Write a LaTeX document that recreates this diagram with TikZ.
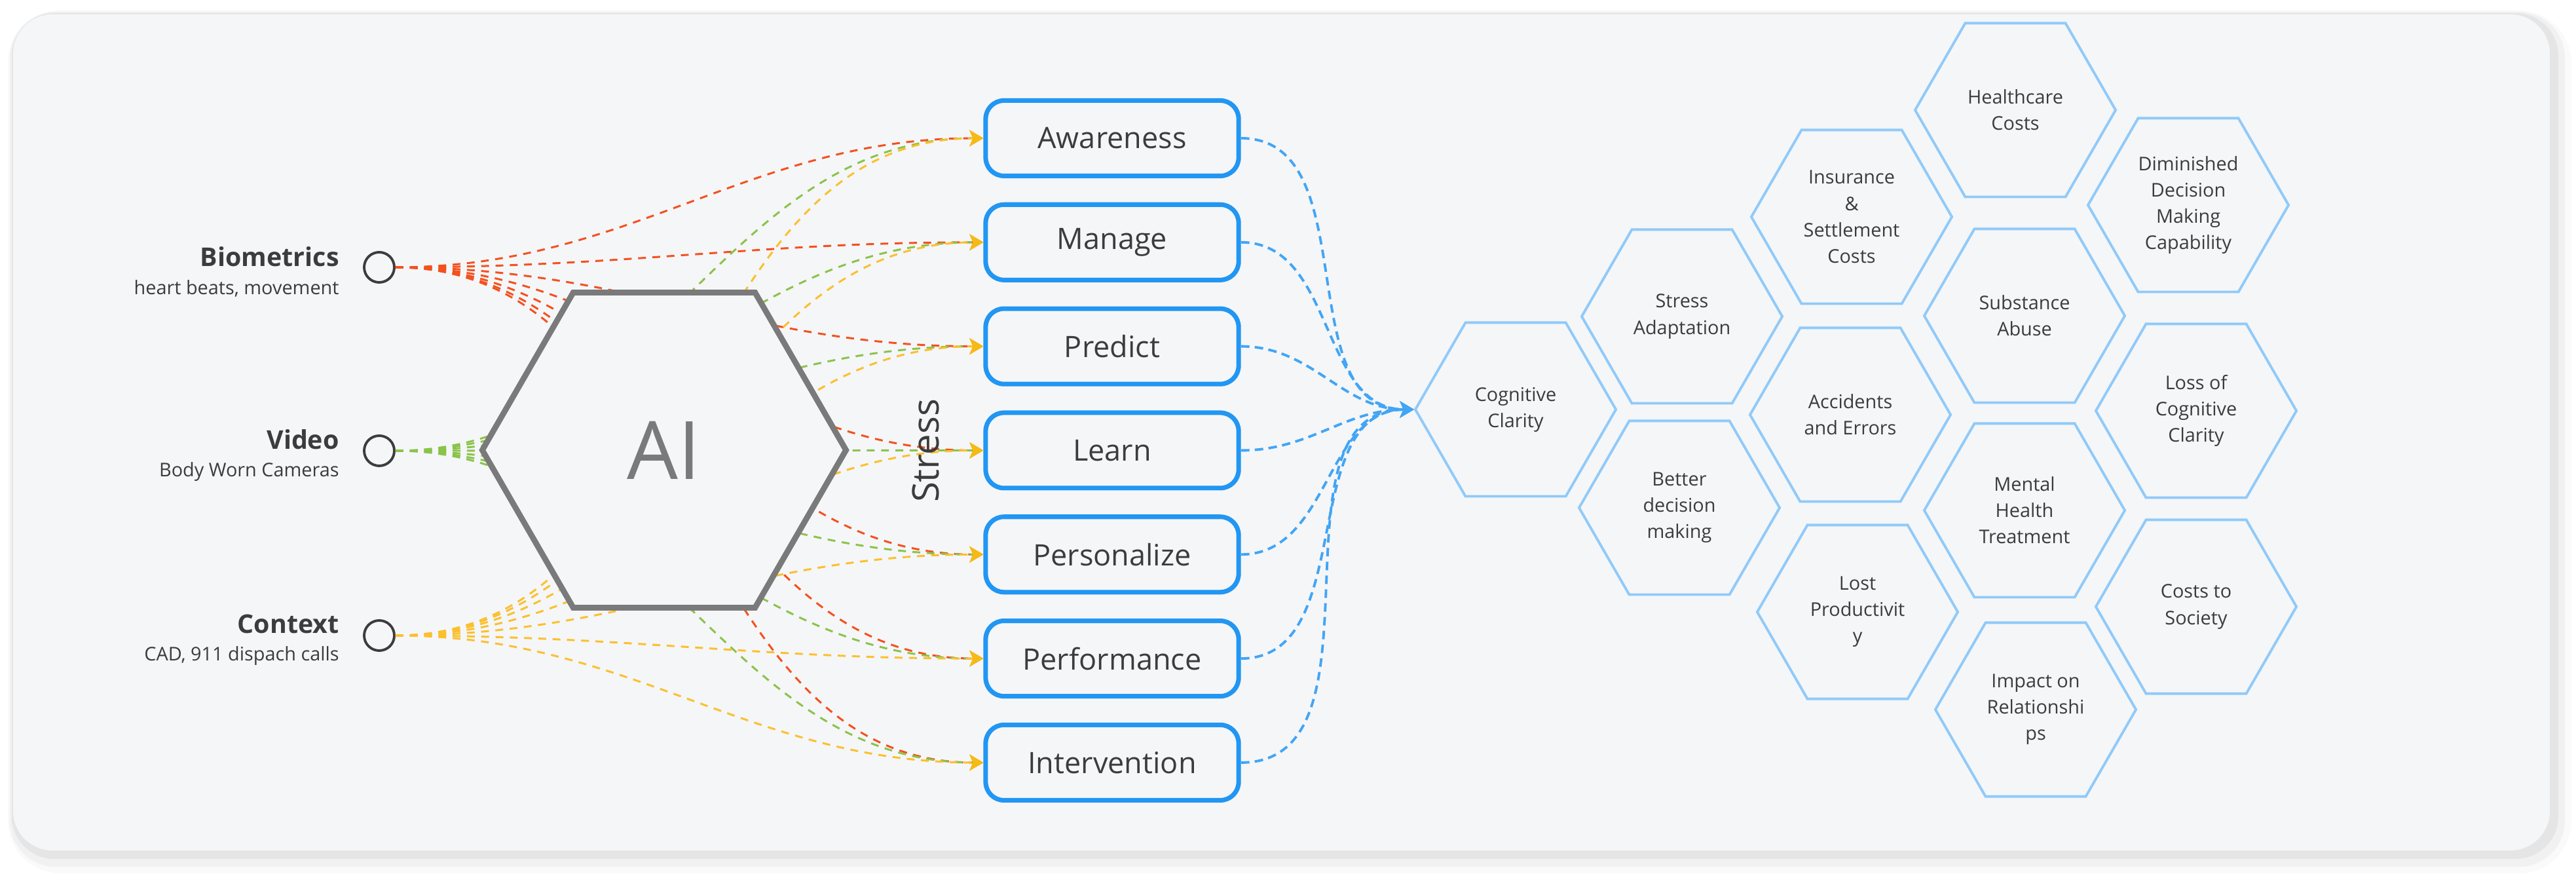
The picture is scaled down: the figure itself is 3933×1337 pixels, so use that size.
\documentclass[tikz,border=0pt]{standalone}
\usepackage{fontspec}
\setmainfont{Open Sans}
\usetikzlibrary{positioning,shapes.geometric,arrows.meta}

\definecolor{cardbg}{HTML}{F5F6F8}
\definecolor{biored}{HTML}{F4511E}
\definecolor{vidgreen}{HTML}{8BC34A}
\definecolor{ctxyellow}{HTML}{FBC02D}
\definecolor{tipyellow}{HTML}{F7B916}
\definecolor{boxblue}{HTML}{2196F3}
\definecolor{hexblue}{HTML}{90CAF9}
\definecolor{flowblue}{HTML}{42A5F5}
\definecolor{aigray}{HTML}{7A7A7A}
\definecolor{txtgray}{HTML}{3C3C3C}

\begin{document}
\begin{tikzpicture}[x=0.01cm,y=0.01cm,
    stagebox/.style={rectangle, draw=boxblue, line width=2pt, rounded corners=0.28cm, minimum width=3.86cm, minimum height=1.15cm, fill=cardbg, text=txtgray, font=\fontsize{12.8}{15}\selectfont},
    effect/.style={regular polygon, regular polygon sides=6, draw=hexblue, line width=1.1pt, minimum size=3.06cm, inner sep=0pt, align=center, text=txtgray, font=\fontsize{8.2}{11.4}\selectfont},
    source/.style={circle, draw=txtgray, line width=1.1pt, minimum size=0.46cm, inner sep=0pt, fill=cardbg},
    sourcetxt/.style={align=right, text=txtgray, left=0.24cm of #1, font=\fontsize{8.2}{12}\selectfont},
    feed/.style={dash pattern=on 3.4pt off 2.8pt, line width=0.85pt, -{Stealth[length=6pt,width=7pt,inset=1.5pt,color=tipyellow]}},
    flow/.style={draw=flowblue, dash pattern=on 3.7pt off 2.3pt, line width=1.1pt, -{Stealth[length=6pt,width=7pt,inset=1.5pt]}}
  ]
    \useasboundingbox (0,0) rectangle (3933,1337);
    % card and its shadow
    \fill[black, opacity=0.02, rounded corners=0.8cm] (12,4) rectangle (3926,1321);
    \fill[black, opacity=0.035, rounded corners=0.7cm] (15,14) rectangle (3916,1319);
    \fill[black, opacity=0.05, rounded corners=0.65cm] (18,26) rectangle (3906,1317);
    \fill[cardbg, rounded corners=0.6cm] (20,39) rectangle (3893,1315);

    % inputs
    \node(bio) [source] at (579,929) {};
    \node(video) [source] at (579,649) {};
    \node(context) [source] at (579,367) {};
    \node(biotxt) [sourcetxt=bio, yshift=-0.07cm] {{\fontsize{11.2}{12}\selectfont\bfseries Biometrics}\\heart beats, movement};
    \node(videotxt) [sourcetxt=video, yshift=-0.07cm] {{\fontsize{11.2}{12}\selectfont\bfseries Video}\\Body Worn Cameras};
    \node(contexttxt) [sourcetxt=context, yshift=-0.07cm] {{\fontsize{11.2}{12}\selectfont\bfseries Context}\\CAD, 911 dispach calls};

    % stages
    \node(aware) [stagebox] at (1698,1126) {Awareness};
    \node(manage) [stagebox, below=0.367cm of aware] {Manage};
    \node(predict) [stagebox, below=0.367cm of manage] {Predict};
    \node(learn) [stagebox, below=0.367cm of predict] {Learn};
    \node(personal) [stagebox, below=0.367cm of learn] {Personalize};
    \node(perform) [stagebox, below=0.367cm of personal] {Performance};
    \node(interv) [stagebox, below=0.367cm of perform] {Intervention};

    % effects
    \node(cog) [effect] at (2314,712) {Cognitive\\Clarity};
    \node(adapt) [effect] at (2568,854) {Stress\\Adaptation};
    \node(better) [effect] at (2564,562) {Better\\decision\\making};
    \node(insur) [effect] at (2827,1006) {Insurance\\\&\\Settlement\\Costs};
    \node(accid) [effect] at (2825,704) {Accidents\\and Errors};
    \node(lost) [effect] at (2836,403) {Lost\\Productivit\\y};
    \node(health) [effect] at (3077,1169) {Healthcare\\Costs};
    \node(subst) [effect] at (3091,855) {Substance\\Abuse};
    \node(mental) [effect] at (3091,558) {Mental\\Health\\Treatment};
    \node(impact) [effect] at (3108,254) {Impact on\\Relationshi\\ps};
    \node(dimin) [effect] at (3341,1024) {Diminished\\Decision\\Making\\Capability};
    \node(losscog) [effect] at (3353,710) {Loss of\\Cognitive\\Clarity};
    \node(society) [effect] at (3353,411) {Costs to\\Society};

    % biometrics feeds
    \draw[feed, biored] (bio) to[out=0,in=180] (aware);
    \draw[feed, biored] (bio) to[out=0,in=180] (manage);
    \draw[feed, biored] (bio) to[out=0,in=180] (predict);
    \draw[feed, biored] (bio) to[out=0,in=180] (learn);
    \draw[feed, biored] (bio) to[out=0,in=180] (personal);
    \draw[feed, biored] (bio) to[out=0,in=180] (perform);
    \draw[feed, biored] (bio) to[out=0,in=180] (interv);
    % video feeds
    \draw[feed, vidgreen] (video) to[out=0,in=180] (aware);
    \draw[feed, vidgreen] (video) to[out=0,in=180] (manage);
    \draw[feed, vidgreen] (video) to[out=0,in=180] (predict);
    \draw[feed, vidgreen] (video) to[out=0,in=180] (learn);
    \draw[feed, vidgreen] (video) to[out=0,in=180] (personal);
    \draw[feed, vidgreen] (video) to[out=0,in=180] (perform);
    \draw[feed, vidgreen] (video) to[out=0,in=180] (interv);
    % context feeds
    \draw[feed, ctxyellow] (context) to[out=0,in=180] (aware);
    \draw[feed, ctxyellow] (context) to[out=0,in=180] (manage);
    \draw[feed, ctxyellow] (context) to[out=0,in=180] (predict);
    \draw[feed, ctxyellow] (context) to[out=0,in=180] (learn);
    \draw[feed, ctxyellow] (context) to[out=0,in=180] (personal);
    \draw[feed, ctxyellow] (context) to[out=0,in=180] (perform);
    \draw[feed, ctxyellow] (context) to[out=0,in=180] (interv);

    % stages into clarity
    \draw[flow] (aware) to[out=0,in=180] (cog);
    \draw[flow] (manage) to[out=0,in=180] (cog);
    \draw[flow] (predict) to[out=0,in=180] (cog);
    \draw[flow] (learn) to[out=0,in=180] (cog);
    \draw[flow] (personal) to[out=0,in=180] (cog);
    \draw[flow] (perform) to[out=0,in=180] (cog);
    \draw[flow] (interv) to[out=0,in=180] (cog);

    \node(ai) [regular polygon, regular polygon sides=6, draw=aigray, line width=2.5pt, fill=cardbg, minimum size=5.55cm, text=aigray, font=\fontsize{35}{40}\selectfont] at (1014,650) {AI};
    \node(stress) [rotate=90, text=txtgray, font=\fontsize{16}{18}\selectfont] at (1413,649) {Stress};
  \end{tikzpicture}
\end{document}
